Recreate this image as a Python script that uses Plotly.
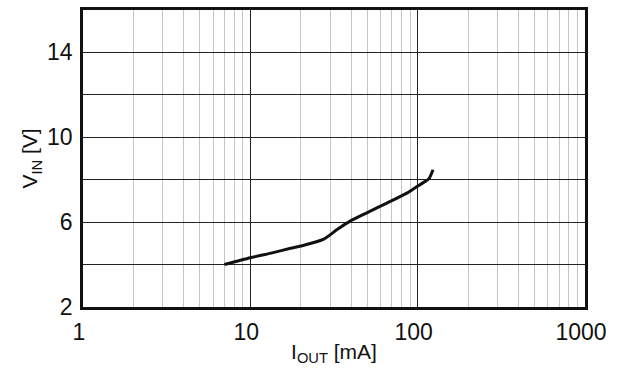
import plotly.graph_objects as go

# Input voltage vs. output current
i_out_ma = [7.0, 10.0, 13.5, 17.4, 20.4, 27.5, 33.0, 39.7, 50.0, 65.9, 86.8, 99.6, 110.0, 116.9, 123.5]
v_in = [4.00, 4.32, 4.55, 4.77, 4.89, 5.20, 5.65, 6.06, 6.45, 6.91, 7.38, 7.69, 7.90, 8.05, 8.47]

x_major = [1, 10, 100, 1000]
x_minor = [m * d for d in (1, 10, 100) for m in range(2, 10)]
y_major = [2, 6, 10, 14]
y_minor = [4, 8, 12]

font_family = "Liberation Sans, Arial, sans-serif"
tick_font = dict(family=font_family, size=23, color="#111111")
title_font = dict(family=font_family, size=21, color="#111111")

fig = go.Figure()
fig.add_trace(go.Scatter(
    x=i_out_ma, y=v_in, mode="lines",
    line=dict(color="#111111", width=3, shape="spline", smoothing=0.6),
    showlegend=False, hoverinfo="skip",
))

fig.update_layout(
    width=622, height=372,
    margin=dict(l=83, r=37, t=7, b=65),
    paper_bgcolor="white", plot_bgcolor="white",
    font=dict(family=font_family, size=22, color="#111111"),
)

fig.update_xaxes(
    type="log", range=[0, 3],
    tickvals=x_major, ticktext=[str(v) for v in x_major],
    tickfont=tick_font,
    ticks="", ticklabelshift=-4, ticklabelstandoff=3,
    showgrid=True, gridcolor="#222222", gridwidth=1,
    minor=dict(tickvals=x_minor, showgrid=True, gridcolor="#c4c4c4", gridwidth=1, ticks=""),
    showline=True, linecolor="#111111", linewidth=2.5, mirror=True,
    zeroline=False,
    title=dict(text="I<sub>OUT</sub> [mA]", font=title_font, standoff=0),
)

fig.update_yaxes(
    range=[2, 16],
    tickvals=y_major, ticktext=[str(v) for v in y_major],
    tickfont=tick_font,
    ticks="", ticklabelstandoff=3,
    showgrid=True, gridcolor="#222222", gridwidth=1,
    minor=dict(tickvals=y_minor, showgrid=True, gridcolor="#222222", gridwidth=1, ticks=""),
    showline=True, linecolor="#111111", linewidth=2.5, mirror=True,
    zeroline=False,
    title=dict(text="V<sub>IN</sub> [V]", font=title_font, standoff=4),
)

fig.write_html("out.html")
